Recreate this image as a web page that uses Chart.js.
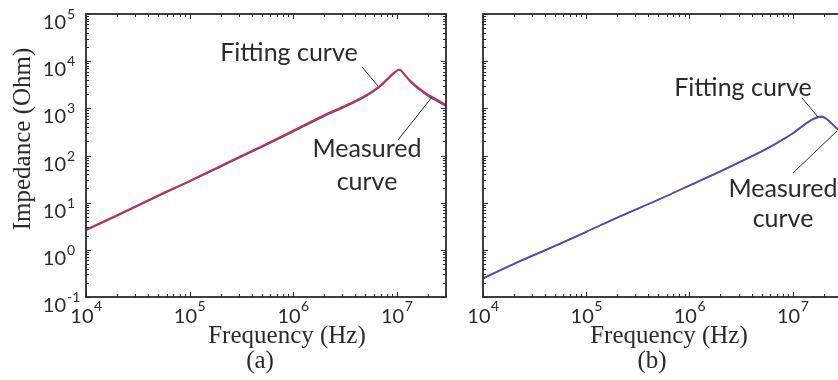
<!DOCTYPE html>
<html lang="en">
<head>
<meta charset="UTF-8">
<script src="https://cdn.jsdelivr.net/npm/chart.js@4.4.0/dist/chart.umd.min.js"></script>
<style>
    body {
        margin: 0;
        width: 838px;
        height: 380px;
        overflow: hidden;
        background: #fff;
        position: relative;
    }

    .panel {
        position: absolute;
        top: 0;
        height: 380px;
    }
</style>
<title>Impedance vs frequency</title>
</head>
<body>
<div class="panel" style="left: 0;"><canvas id="chartA" width="464" height="380"></canvas></div>
<div class="panel" style="left: 464px;"><canvas id="chartB" width="390" height="380"></canvas></div>

<script>
    // panel (a)
    const freqA = [1e4, 2e4, 5e4, 1e5, 2e5, 5e5, 1e6, 2e6, 3e6, 4e6, 5e6, 6e6, 7e6, 8e6, 9e6, 1e7, 1.05e7, 1.1e7, 1.2e7, 1.4e7, 1.7e7, 2e7, 2.5e7, 3e7];
    const measuredA = [2.6, 5.3, 13.8, 28, 58, 152, 320, 680, 1020, 1370, 1780, 2280, 2950, 3900, 5000, 6100, 6550, 6300, 5000, 3400, 2400, 1850, 1400, 1120];
    const fittingA = [2.7, 5.5, 14.4, 29, 61, 160, 338, 720, 1080, 1450, 1880, 2410, 3120, 4100, 5250, 6300, 6650, 6450, 5200, 3600, 2550, 1980, 1500, 1190];

    // panel (b)
    const freqB = [1e4, 2e4, 5e4, 1e5, 2e5, 5e5, 1e6, 2e6, 4e6, 6e6, 8e6, 1e7, 1.2e7, 1.4e7, 1.6e7, 1.8e7, 1.9e7, 2e7, 2.2e7, 2.5e7, 2.7e7, 3e7];
    const measuredB = [0.245, 0.5, 1.2, 2.4, 4.8, 11.5, 23, 46, 95, 150, 215, 290, 390, 500, 590, 650, 655, 640, 560, 430, 370, 300];
    const fittingB = [0.25, 0.51, 1.22, 2.42, 4.85, 11.6, 23.2, 46.5, 96, 152, 218, 295, 400, 510, 610, 670, 675, 655, 570, 435, 372, 300];

    // axes
    const xTickValues = [1e4, 1e5, 1e6, 1e7];
    const xTickExps = ['4', '5', '6', '7'];
    const yTickValues = [1e-1, 1e0, 1e1, 1e2, 1e3, 1e4, 1e5];
    const yTickExps = ['-1', '0', '1', '2', '3', '4', '5'];

    const RED = '#e8262f';
    const BLUE = '#3a52cc';
    const INK = '#2a2a2a';
    const SANS = 'Lato, "Open Sans", sans-serif';
    const SERIF = '"Liberation Serif", "DejaVu Serif", serif';

    function pairs(xs, ys) {
        return xs.map((x, i) => ({ x: x, y: ys[i] }));
    }

    // box, inward ticks, power-of-ten labels and annotations
    const decorPlugin = {
        id: 'decor',
        afterDatasetsDraw(chart, args, opts) {
            const ctx = chart.ctx;
            const xs = chart.scales.x;
            const ys = chart.scales.y;
            const a = chart.chartArea;
            const off = opts.offsetX;
            ctx.save();

            // minor + major ticks
            ctx.strokeStyle = INK;
            ctx.lineWidth = 1;
            ctx.beginPath();
            for (let d = 4; d <= 7; d++) {
                for (let m = 1; m <= 9; m++) {
                    const v = m * Math.pow(10, d);
                    if (v > xs.max) break;
                    const px = Math.round(xs.getPixelForValue(v)) + 0.5;
                    const len = m === 1 ? 5 : 3;
                    ctx.moveTo(px, a.bottom); ctx.lineTo(px, a.bottom - len);
                    ctx.moveTo(px, a.top); ctx.lineTo(px, a.top + len);
                }
            }
            for (let d = -1; d <= 5; d++) {
                for (let m = 1; m <= 9; m++) {
                    const v = m * Math.pow(10, d);
                    if (v > ys.max * 1.0001) break;
                    const py = Math.round(ys.getPixelForValue(v)) + 0.5;
                    const len = m === 1 ? 5 : 3;
                    ctx.moveTo(a.left, py); ctx.lineTo(a.left + len, py);
                    ctx.moveTo(a.right, py); ctx.lineTo(a.right - len, py);
                }
            }
            ctx.stroke();

            // box
            ctx.lineWidth = 1.8;
            ctx.strokeRect(a.left, a.top, a.right - a.left, a.bottom - a.top);

            ctx.fillStyle = INK;
            ctx.textBaseline = 'alphabetic';

            // x tick labels
            xTickValues.forEach((v, i) => {
                const px = xs.getPixelForValue(v);
                ctx.font = '20px ' + SANS;
                const w1 = ctx.measureText('10').width;
                ctx.font = '14px ' + SANS;
                const w2 = ctx.measureText(xTickExps[i]).width;
                const x0 = px - (w1 + w2) / 2;
                ctx.textAlign = 'left';
                ctx.font = '20px ' + SANS;
                ctx.fillText('10', x0, 323);
                ctx.font = '14px ' + SANS;
                ctx.fillText(xTickExps[i], x0 + w1 + 0.5, 311);
            });

            // y tick labels
            if (opts.yLabels) {
                yTickValues.forEach((v, i) => {
                    const py = ys.getPixelForValue(v);
                    ctx.textAlign = 'right';
                    ctx.font = '20px ' + SANS;
                    ctx.fillText('10', 66, py + 15);
                    ctx.textAlign = 'left';
                    ctx.font = '14px ' + SANS;
                    ctx.fillText(yTickExps[i], 67, py + 5);
                });

                ctx.save();
                ctx.translate(30, 139);
                ctx.rotate(-Math.PI / 2);
                ctx.textAlign = 'center';
                ctx.font = '25px ' + SERIF;
                ctx.fillText('Impedance (Ohm)', 0, 0);
                ctx.restore();
            }

            // axis title and panel letter
            ctx.textAlign = 'center';
            ctx.font = '25px ' + SERIF;
            ctx.fillText('Frequency (Hz)', opts.titleX - off, 343);
            ctx.fillText(opts.letter, opts.letterX - off, 368);

            // annotations with leader lines
            ctx.font = '25px ' + SANS;
            opts.notes.forEach(n => {
                ctx.fillText(n.text, n.x - off, n.y);
            });
            ctx.lineWidth = 1;
            ctx.beginPath();
            opts.leaders.forEach(l => {
                ctx.moveTo(l[0] - off, l[1]);
                ctx.lineTo(l[2] - off, l[3]);
            });
            ctx.stroke();

            ctx.restore();
        }
    };

    function makeChart(id, freq, measured, fitting, xMax, padding, decor, redOnTop) {
        return new Chart(document.getElementById(id), {
            type: 'line',
            data: {
                datasets: [
                    {
                        label: 'Fitting curve',
                        data: pairs(freq, fitting),
                        borderColor: RED,
                        borderWidth: 1.6,
                        pointRadius: 0,
                        cubicInterpolationMode: 'monotone',
                        order: redOnTop ? 0 : 1
                    },
                    {
                        label: 'Measured curve',
                        data: pairs(freq, measured),
                        borderColor: BLUE,
                        borderWidth: 1.6,
                        pointRadius: 0,
                        cubicInterpolationMode: 'monotone',
                        order: redOnTop ? 1 : 0
                    }
                ]
            },
            options: {
                responsive: false,
                animation: false,
                layout: { padding: padding },
                plugins: {
                    legend: { display: false },
                    tooltip: { enabled: false },
                    decor: decor
                },
                scales: {
                    x: { type: 'logarithmic', min: 1e4, max: xMax, display: false },
                    y: { type: 'logarithmic', min: 0.1, max: 1e5, display: false }
                }
            },
            plugins: [decorPlugin]
        });
    }

    makeChart('chartA', freqA, measuredA, fittingA, 3e7,
        { left: 86, top: 14, right: 18, bottom: 83 },
        {
            offsetX: 0,
            yLabels: true,
            titleX: 287,
            letter: '(a)',
            letterX: 260,
            notes: [
                { text: 'Fitting curve', x: 289, y: 61 },
                { text: 'Measured', x: 367, y: 157 },
                { text: 'curve', x: 367, y: 190 }
            ],
            leaders: [[362, 67, 378, 86], [398, 140, 432, 97]]
        }, true);

    makeChart('chartB', freqB, measuredB, fittingB, 3.6e7,
        { left: 19, top: 14, right: 4, bottom: 83 },
        {
            offsetX: 464,
            yLabels: false,
            titleX: 669,
            letter: '(b)',
            letterX: 652,
            notes: [
                { text: 'Fitting curve', x: 743, y: 96 },
                { text: 'Measured', x: 783, y: 197 },
                { text: 'curve', x: 783, y: 227 }
            ],
            leaders: [[802, 98, 818, 117], [793, 173, 837, 131]]
        }, false);
</script>
</body>
</html>
